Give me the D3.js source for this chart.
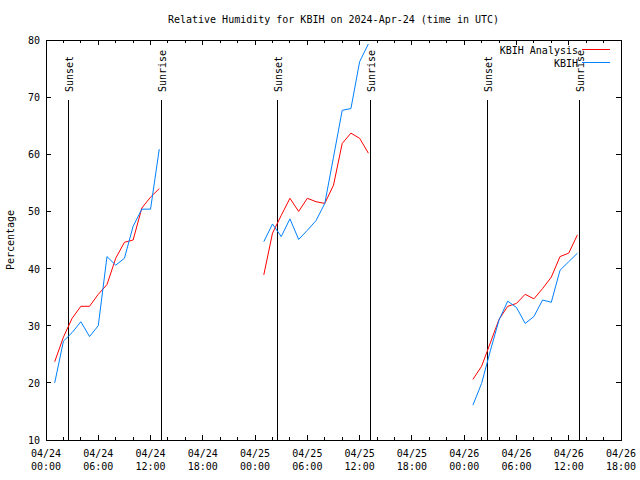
<!DOCTYPE html>
<html><head><meta charset="utf-8">
<script src="https://cdn.jsdelivr.net/npm/d3@7"></script>
<style>body{margin:0;background:#fff}svg{display:block}text{font-family:"DejaVu Sans Mono",monospace;font-size:10px;fill:#000}</style>
</head><body><div id="c"></div>
<script>
// hours since 2024-04-24 00:00 UTC
const hours = [1,2,3,4,5,6,7,8,9,10,11,12,13,
               25,26,27,28,29,30,31,32,33,34,35,36,37,
               49,50,51,52,53,54,55,56,57,58,59,60,61];
const analysis = [23.7,28.0,31.3,33.4,33.4,35.5,37.2,41.8,44.6,45.0,50.6,52.5,54.0,
                  38.9,46.2,49.3,52.3,50.0,52.3,51.7,51.4,54.6,61.9,63.7,62.8,60.2,
                  20.6,22.9,27.0,31.1,33.4,33.9,35.5,34.7,36.5,38.5,42.1,42.7,45.9];
const observed = [20.0,27.3,28.8,30.7,28.1,30.0,42.1,40.6,41.8,47.4,50.4,50.4,60.9,
                  44.7,47.8,45.6,48.7,45.1,46.7,48.4,51.4,59.5,67.7,68.0,76.2,79.3,
                  16.1,19.9,25.6,31.0,34.3,33.2,30.4,31.6,34.5,34.1,39.7,41.2,42.7];
const segments = [[0,13],[13,26],[26,39]];
const sunEvents = [{h:2.55,label:"Sunset"},{h:13.2,label:"Sunrise"},
                   {h:26.57,label:"Sunset"},{h:37.2,label:"Sunrise"},
                   {h:50.6,label:"Sunset"},{h:61.17,label:"Sunrise"}];
const xTicks = [0,6,12,18,24,30,36,42,48,54,60,66];
const xTickDates = ["04/24","04/24","04/24","04/24","04/25","04/25","04/25","04/25","04/26","04/26","04/26","04/26"];
const xTickTimes = ["00:00","06:00","12:00","18:00","00:00","06:00","12:00","18:00","00:00","06:00","12:00","18:00"];
const yTicks = [10,20,30,40,50,60,70,80];
const series = [{name:"KBIH Analysis",values:analysis,color:"#ff0000"},
                {name:"KBIH",values:observed,color:"#0080ff"}];

const W=640,H=480,L=46,R=621,T=40,B=440;
const svg=d3.select("#c").append("svg").attr("width",W).attr("height",H);
const x=d3.scaleLinear().domain([0,66]).range([L,R]);
const y=d3.scaleLinear().domain([10,80]).range([B,T]);

// minor ticks every 2h
const minor=d3.range(0,67,2).filter(h=>h%6!==0);
const g=svg.append("g").attr("stroke","#000").attr("stroke-width",1).attr("shape-rendering","crispEdges");
minor.forEach(h=>{
  g.append("line").attr("x1",x(h)).attr("x2",x(h)).attr("y1",B).attr("y2",B-3);
  g.append("line").attr("x1",x(h)).attr("x2",x(h)).attr("y1",T).attr("y2",T+3);
});
xTicks.forEach(h=>{
  g.append("line").attr("x1",x(h)).attr("x2",x(h)).attr("y1",B).attr("y2",B-5);
  g.append("line").attr("x1",x(h)).attr("x2",x(h)).attr("y1",T).attr("y2",T+5);
});
yTicks.forEach(v=>{
  g.append("line").attr("x1",L).attr("x2",L+5).attr("y1",y(v)).attr("y2",y(v));
  g.append("line").attr("x1",R).attr("x2",R-5).attr("y1",y(v)).attr("y2",y(v));
});
// x tick labels
xTicks.forEach((h,i)=>{
  const t=svg.append("text").attr("x",x(h)).attr("text-anchor","middle");
  t.append("tspan").attr("x",x(h)).attr("y",457).text(xTickDates[i]);
  t.append("tspan").attr("x",x(h)).attr("y",470).text(xTickTimes[i]);
});
yTicks.forEach(v=>{
  svg.append("text").attr("x",40).attr("y",y(v)+4).attr("text-anchor","end").text(v);
});
svg.append("text").attr("transform","translate(14,"+((T+B)/2)+") rotate(-90)")
  .attr("text-anchor","middle").text("Percentage");
svg.append("text").attr("x",(L+R)/2).attr("y",23).attr("text-anchor","middle")
  .text("Relative Humidity for KBIH on 2024-Apr-24 (time in UTC)");

// sun events
sunEvents.forEach(e=>{
  const xx=Math.round(x(e.h))+0.5;
  svg.append("line").attr("x1",xx).attr("x2",xx).attr("y1",100).attr("y2",B)
    .attr("stroke","#000").attr("stroke-width",1);
  svg.append("text").attr("transform","translate("+(xx+4)+",92) rotate(-90)")
    .attr("text-anchor","start").text(e.label);
});

// data lines
const line=d3.line().x(d=>x(d[0])).y(d=>y(d[1]));
series.forEach(s=>{
  segments.forEach(([a,b])=>{
    const pts=hours.slice(a,b).map((h,i)=>[h,s.values[a+i]]);
    svg.append("path").attr("d",line(pts)).attr("fill","none")
      .attr("stroke",s.color).attr("stroke-width",1);
  });
});

// frame
svg.append("rect").attr("x",L).attr("y",T).attr("width",R-L).attr("height",B-T)
  .attr("fill","none").attr("stroke","#000").attr("shape-rendering","crispEdges");

// legend
series.forEach((s,i)=>{
  const yy=49+i*13;
  svg.append("text").attr("x",578).attr("y",yy+4.5).attr("text-anchor","end").text(s.name);
  svg.append("line").attr("x1",582).attr("x2",610).attr("y1",yy+0.5).attr("y2",yy+0.5)
    .attr("stroke",s.color).attr("stroke-width",1);
});
</script></body></html>
